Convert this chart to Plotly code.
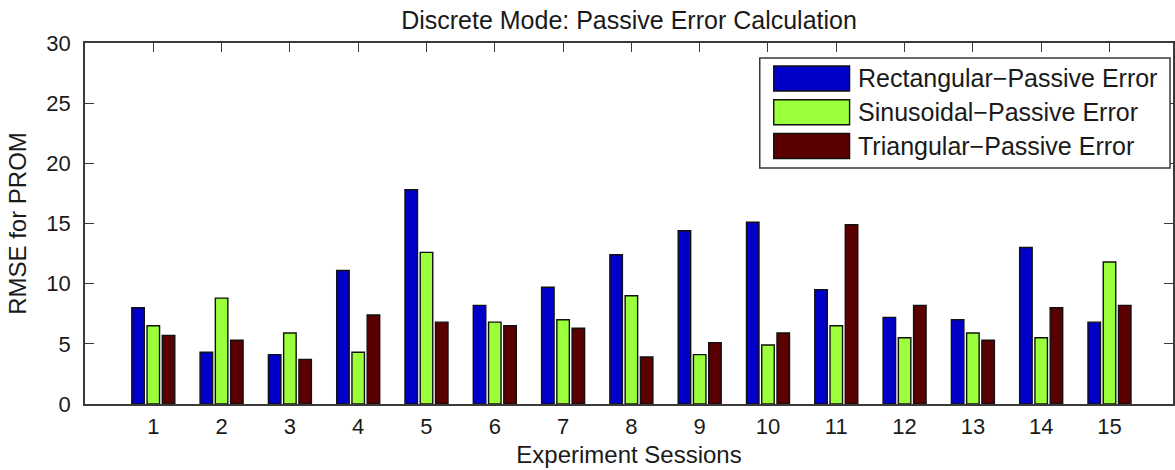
import plotly.graph_objects as go

sessions = list(range(1, 16))
tick_labels = [str(s) for s in sessions]
series_names = ["Rectangular\u2212Passive Error", "Sinusoidal\u2212Passive Error", "Triangular\u2212Passive Error"]
rect_err = [8.0, 4.3, 4.1, 11.1, 17.8, 8.2, 9.7, 12.4, 14.4, 15.1, 9.5, 7.2, 7.0, 13.0, 6.8]
sin_err = [6.5, 8.8, 5.9, 4.3, 12.6, 6.8, 7.0, 9.0, 4.1, 4.9, 6.5, 5.5, 5.9, 5.5, 11.8]
tri_err = [5.7, 5.3, 3.7, 7.4, 6.8, 6.5, 6.3, 3.9, 5.1, 5.9, 14.9, 8.2, 5.3, 8.0, 8.2]
colors = ["#0000C8", "#9CFF3C", "#5A0000"]

W, H = 1175, 470
L, R, T, B = 85, 0, 43, 66
FONT = "Liberation Sans, Arial, Helvetica, sans-serif"
TXT = "#1a1a1a"
AX = "#3a3a3a"

fig = go.Figure()
for name, vals, c in zip(series_names, [rect_err, sin_err, tri_err], colors):
    fig.add_trace(go.Bar(x=sessions, y=vals, name=name, showlegend=False,
                         marker=dict(color=c, line=dict(color="#111111", width=1.4))))

# manual MATLAB-style legend (large patches)
pw = W - L - R
ph = H - T - B
def px_x(p):
    return (p - L) / pw
def px_y(p):
    return (H - B - p) / ph

fig.add_shape(type="rect", xref="paper", yref="paper",
              x0=px_x(761), x1=px_x(1172), y0=px_y(168), y1=px_y(58),
              line=dict(color=AX, width=1.5), fillcolor="white", layer="above")
row_centers = [78.5, 112.2, 146.0]
for name, c, yc in zip(series_names, colors, row_centers):
    fig.add_shape(type="rect", xref="paper", yref="paper",
                  x0=px_x(775), x1=px_x(851), y0=px_y(yc + 12.5), y1=px_y(yc - 12.5),
                  line=dict(color="#111111", width=1.4), fillcolor=c, layer="above")
    fig.add_annotation(xref="paper", yref="paper", x=px_x(857), y=px_y(yc),
                       xanchor="left", yanchor="middle", text=name, showarrow=False,
                       font=dict(family=FONT, size=25, color=TXT))

fig.update_layout(
    width=W, height=H,
    margin=dict(l=L, r=R, t=T, b=B, pad=0),
    paper_bgcolor="white", plot_bgcolor="white",
    barmode="group", bargap=0.33, bargroupgap=0.18,
    font=dict(family=FONT, size=22, color=TXT),
    title=dict(text="Discrete Mode: Passive Error Calculation", x=0.5, xref="paper",
               xanchor="center", y=1 - 20 / H, yref="container", yanchor="middle",
               font=dict(family=FONT, size=25, color=TXT)),
    xaxis=dict(range=[0, 15.93], tickvals=sessions, ticktext=tick_labels,
               showline=True, linecolor=AX, linewidth=1.6, mirror="ticks",
               ticks="inside", ticklen=9, tickwidth=1.4, tickcolor=AX,
               showgrid=False, zeroline=False, layer="below traces",
               ticklabelstandoff=2,
               title=dict(text="Experiment Sessions", standoff=8,
                          font=dict(family=FONT, size=24, color=TXT))),
    yaxis=dict(range=[0, 30], dtick=5, tick0=0,
               showline=True, linecolor=AX, linewidth=1.6, mirror="ticks",
               ticks="inside", ticklen=9, tickwidth=1.4, tickcolor=AX,
               showgrid=False, zeroline=False,
               ticklabelstandoff=8,
               title=dict(text="RMSE for PROM", standoff=13,
                          font=dict(family=FONT, size=24, color=TXT))),
)

fig.write_html("out.html")
